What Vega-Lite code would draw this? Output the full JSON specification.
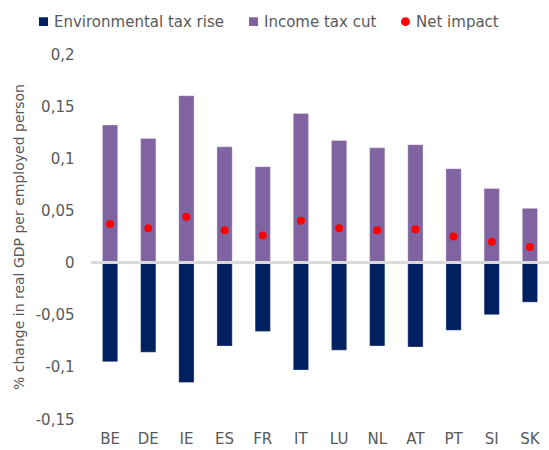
{
  "$schema": "https://vega.github.io/schema/vega-lite/v6.json",
  "width": 458,
  "height": 365,
  "autosize": {"type": "none"},
  "padding": {"left": 91, "top": 54, "right": 0, "bottom": 31},
  "config": {
    "view": {"stroke": null},
    "font": "DejaVu Sans",
    "locale": {"number": {"decimal": ",", "thousands": ".", "grouping": [3], "currency": ["", " €"], "minus": "-"}},
    "axis": {"labelColor": "#595959", "labelFontSize": 15, "titleColor": "#595959", "domain": false, "ticks": false, "grid": false},
    "legend": {"labelColor": "#595959", "labelFontSize": 15, "labelLimit": 400}
  },
  "data": {"values": [
    {"country": "BE", "series": "Environmental tax rise", "value": -0.095},
    {"country": "DE", "series": "Environmental tax rise", "value": -0.086},
    {"country": "IE", "series": "Environmental tax rise", "value": -0.115},
    {"country": "ES", "series": "Environmental tax rise", "value": -0.080},
    {"country": "FR", "series": "Environmental tax rise", "value": -0.066},
    {"country": "IT", "series": "Environmental tax rise", "value": -0.103},
    {"country": "LU", "series": "Environmental tax rise", "value": -0.084},
    {"country": "NL", "series": "Environmental tax rise", "value": -0.080},
    {"country": "AT", "series": "Environmental tax rise", "value": -0.081},
    {"country": "PT", "series": "Environmental tax rise", "value": -0.065},
    {"country": "SI", "series": "Environmental tax rise", "value": -0.050},
    {"country": "SK", "series": "Environmental tax rise", "value": -0.038},
    {"country": "BE", "series": "Income tax cut", "value": 0.132},
    {"country": "DE", "series": "Income tax cut", "value": 0.119},
    {"country": "IE", "series": "Income tax cut", "value": 0.160},
    {"country": "ES", "series": "Income tax cut", "value": 0.111},
    {"country": "FR", "series": "Income tax cut", "value": 0.092},
    {"country": "IT", "series": "Income tax cut", "value": 0.143},
    {"country": "LU", "series": "Income tax cut", "value": 0.117},
    {"country": "NL", "series": "Income tax cut", "value": 0.110},
    {"country": "AT", "series": "Income tax cut", "value": 0.113},
    {"country": "PT", "series": "Income tax cut", "value": 0.090},
    {"country": "SI", "series": "Income tax cut", "value": 0.071},
    {"country": "SK", "series": "Income tax cut", "value": 0.052},
    {"country": "BE", "series": "Net impact", "value": 0.037},
    {"country": "DE", "series": "Net impact", "value": 0.033},
    {"country": "IE", "series": "Net impact", "value": 0.044},
    {"country": "ES", "series": "Net impact", "value": 0.031},
    {"country": "FR", "series": "Net impact", "value": 0.026},
    {"country": "IT", "series": "Net impact", "value": 0.040},
    {"country": "LU", "series": "Net impact", "value": 0.033},
    {"country": "NL", "series": "Net impact", "value": 0.031},
    {"country": "AT", "series": "Net impact", "value": 0.032},
    {"country": "PT", "series": "Net impact", "value": 0.025},
    {"country": "SI", "series": "Net impact", "value": 0.020},
    {"country": "SK", "series": "Net impact", "value": 0.015}
  ]},
  "encoding": {
    "x": {
      "field": "country", "type": "nominal",
      "sort": ["BE", "DE", "IE", "ES", "FR", "IT", "LU", "NL", "AT", "PT", "SI", "SK"],
      "scale": {"paddingInner": 0.6, "paddingOuter": 0.3},
      "axis": {"title": null, "labelAngle": 0, "labelPadding": 12}
    }
  },
  "layer": [
    {
      "transform": [{"filter": "datum.series !== 'Net impact'"}],
      "mark": {"type": "bar", "stroke": "#ffffff", "strokeWidth": 0.6, "strokeOpacity": 0.5},
      "encoding": {
        "y": {
          "field": "value", "type": "quantitative", "stack": null,
          "scale": {"domain": [-0.15, 0.2], "nice": false, "zero": false},
          "axis": {
            "title": "% change in real GDP per employed person",
            "titleFontSize": 14, "titleFontWeight": "normal", "titlePadding": 9,
            "values": [-0.15, -0.1, -0.05, 0, 0.05, 0.1, 0.15, 0.2],
            "format": ".2~f", "labelPadding": 17
          }
        },
        "color": {
          "field": "series", "type": "nominal",
          "scale": {"domain": ["Environmental tax rise", "Income tax cut", "Net impact"], "range": ["#002060", "#8064A2", "#FF0000"]},
          "legend": {"title": null, "orient": "none", "direction": "horizontal", "legendX": -55, "legendY": -40, "symbolSize": 110, "columnPadding": 20, "symbolOpacity": 1, "labelOffset": 3, "labelLimit": 400}
        }
      }
    },
    {
      "mark": {"type": "rule", "color": "#d9d9d9", "strokeWidth": 2},
      "encoding": {"y": {"datum": 0}, "x": {}}
    },
    {
      "transform": [{"filter": "datum.series === 'Net impact'"}],
      "mark": {"type": "point", "filled": true, "size": 64, "opacity": 1},
      "encoding": {
        "y": {"field": "value", "type": "quantitative"},
        "color": {"field": "series", "type": "nominal"},
        "shape": {
          "field": "series", "type": "nominal",
          "scale": {"domain": ["Environmental tax rise", "Income tax cut", "Net impact"], "range": ["square", "square", "circle"]},
          "legend": {"title": null, "orient": "none", "direction": "horizontal", "legendX": -55, "legendY": -40, "symbolSize": 110, "columnPadding": 20, "labelOffset": 3, "labelLimit": 400}
        }
      }
    }
  ]
}
